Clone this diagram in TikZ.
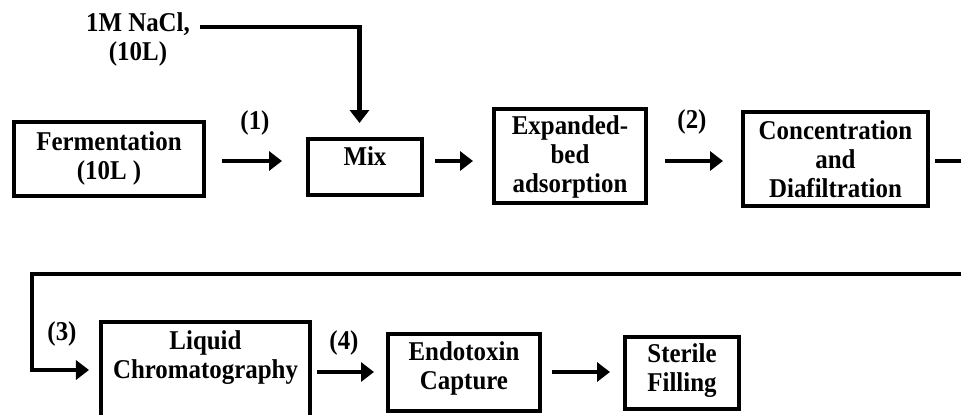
\documentclass[tikz,border=0pt]{standalone}
\usepackage{fontspec}
\setmainfont{Liberation Serif}
\usetikzlibrary{arrows.meta}
\begin{document}
\begin{tikzpicture}[x=1bp,y=-1bp,
  box/.style={draw, line width=4bp, inner sep=0pt, outer sep=0pt},
  txt/.style={align=center, inner sep=0pt, yscale=1.09, transform shape, font=\fontsize{25}{26.6}\selectfont\bfseries},
  arr/.style={line width=4.5bp, -{Triangle[length=13bp,width=19bp]}},
  ln/.style={line width=4.5bp}]
\useasboundingbox (0,0) rectangle (961,414);
\clip (0,0) rectangle (961,414);
% boxes
\node[box, minimum width=190bp, minimum height=74bp] (fer) at (109,159) {};
\node[box, minimum width=114bp, minimum height=56bp] (mix) at (365,167) {};
\node[box, minimum width=152bp, minimum height=94bp] (eba) at (570,156) {};
\node[box, minimum width=185bp, minimum height=94bp] (conc) at (835.5,159) {};
\node[box, minimum width=209bp, minimum height=96bp] (lc) at (205.5,370) {};
\node[box, minimum width=152bp, minimum height=77bp] (endo) at (464,372.5) {};
\node[box, minimum width=114bp, minimum height=72bp] (ster) at (682,373) {};
% texts
\node[txt] (fert) at (109,158.5) {Fermentation\\(10L )};
\node[txt] (mixt) at (365,156.5) {Mix};
\node[txt] (ebat) at (570,157) {Expanded-\\bed\\adsorption};
\node[txt] (conct) at (835.5,159) {Concentration\\and\\Diafiltration};
\node[txt] (lct) at (205.5,358) {Liquid\\Chromatography};
\node[txt] (endot) at (464,368.5) {Endotoxin\\Capture};
\node[txt] (stert) at (682,371) {Sterile\\Filling};
\node[txt] (nacl) at (138,39.5) {1M NaCl,\\(10L)};
\node[txt] (l1) at (255,123) {(1)};
\node[txt] (l2) at (692,122) {(2)};
\node[txt] (l3) at (62,334) {(3)};
\node[txt] (l4) at (344,343) {(4)};
% rows
\coordinate (r1) at (0,161);
\coordinate (r2) at (0,372);
\coordinate (nr) at (0,27);
\coordinate (rt) at (985,161);
\coordinate (lt) at (32,274);
% connectors
\draw[arr, shorten <=18bp, shorten >=26bp] (fer.east |- r1) -- (mix.west |- r1);
\draw[arr, shorten <=13bp, shorten >=21bp] (mix.east |- r1) -- (eba.west |- r1);
\draw[arr, shorten <=19bp, shorten >=20bp] (eba.east |- r1) -- (conc.west |- r1);
\draw[arr, shorten <=7bp, shorten >=12bp] (conc.east |- r1) -- (rt) |- (lt) |- (lc.west);
\draw[arr, shorten <=7bp, shorten >=14bp] (lc.east |- r2) -- (endo.west |- r2);
\draw[arr, shorten <=12bp, shorten >=15bp] (endo.east |- r2) -- (ster.west |- r2);
\draw[arr, shorten <=10bp, shorten >=16bp] (nacl.east |- nr) -| ([xshift=-5.5bp]mix.north);
\end{tikzpicture}
\end{document}
